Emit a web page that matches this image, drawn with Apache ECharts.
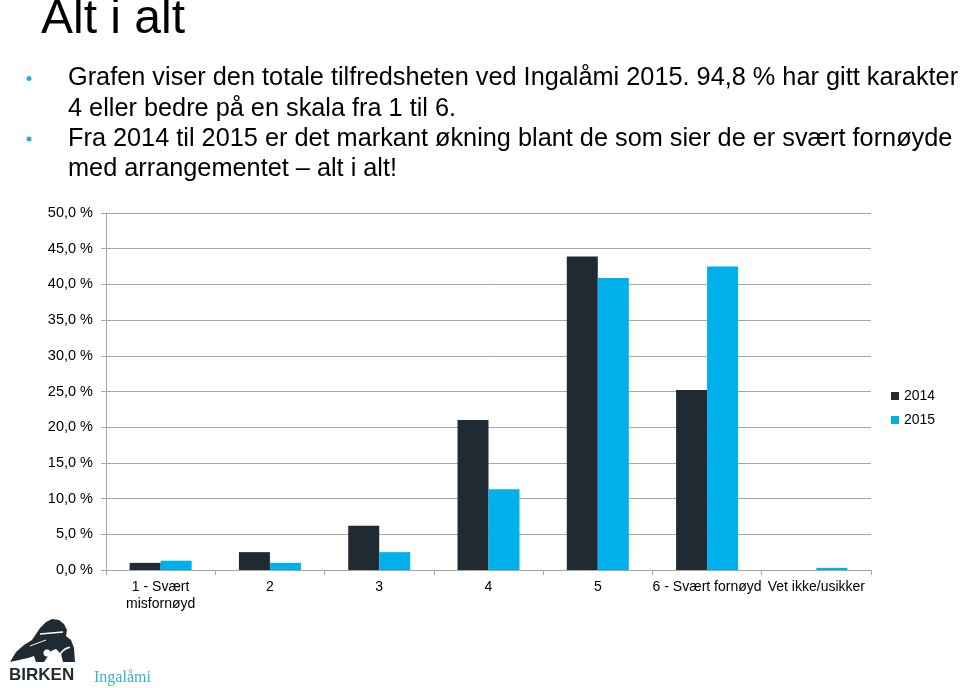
<!DOCTYPE html>
<html><head><meta charset="utf-8">
<script src="https://cdn.jsdelivr.net/npm/echarts@6/dist/echarts.min.js"></script>
<style>html,body{margin:0;padding:0;background:#fff}#c{width:960px;height:688px}</style>
</head><body><div id="c"></div>
<script>
const categories = ['1 - Svært\nmisfornøyd', '2', '3', '4', '5', '6 - Svært fornøyd', 'Vet ikke/usikker'];
const values2014 = [1.0, 2.5, 6.2, 21.0, 43.9, 25.2, 0];
const values2015 = [1.3, 1.0, 2.5, 11.3, 40.9, 42.5, 0.3];
const seriesNames = ['2014', '2015'];
const yTicks = { min: 0, max: 50, step: 5 };
const title = 'Alt i alt';
const bullets = [
  ['Grafen viser den totale tilfredsheten ved Ingalåmi 2015. 94,8 % har gitt karakter', '4 eller bedre på en skala fra 1 til 6.'],
  ['Fra 2014 til 2015 er det markant økning blant de som sier de er svært fornøyde', 'med arrangementet – alt i alt!']
];

const font = 'Arial, "Liberation Sans", Helvetica, sans-serif';
const graphics = [
  { type: 'text', x: 41, y: -4, style: { text: title, fontSize: 48, fontFamily: font, fill: '#000', verticalAlign: 'top' } }
];
let lineY = 78.5;
bullets.forEach(b => {
  graphics.push({ type: 'circle', shape: { cx: 29, cy: lineY, r: 2.5 }, style: { fill: '#29abe2' } });
  b.forEach(line => {
    graphics.push({ type: 'text', x: 68, y: lineY, style: { text: line, fontSize: 25.3, fontFamily: font, fill: '#000', verticalAlign: 'middle' } });
    lineY += 30.3;
  });
});
// logo approximation
graphics.push({ type: 'polygon', shape: { points: [[10,662],[16,652],[24,645],[32,640],[36,634],[40,628],[46,622],[52,619],[59,620],[64,624],[67,630],[66,636],[71,640],[74,648],[75,662],[63,662],[61,654],[56,649],[51,651],[48,656],[44,662],[36,662],[34,656],[28,658]] }, style: { fill: '#1f2a33' } });
graphics.push({ type: 'line', shape: { x1: 40, y1: 634, x2: 63, y2: 632 }, style: { stroke: '#fff', lineWidth: 1.5 } });
graphics.push({ type: 'line', shape: { x1: 30, y1: 646, x2: 46, y2: 640 }, style: { stroke: '#fff', lineWidth: 1 } });
graphics.push({ type: 'arc', shape: { cx: 72, cy: 660, r: 13, startAngle: Math.PI * 1.0, endAngle: Math.PI * 1.45 }, style: { stroke: '#fff', lineWidth: 1.5, fill: null } });
graphics.push({ type: 'circle', shape: { cx: 47, cy: 653, r: 3.5 }, style: { fill: '#fff' } });
graphics.push({ type: 'text', x: 9, y: 675, style: { text: 'BIRKEN', fontSize: 17, fontWeight: 'bold', fontFamily: font, fill: '#1f2a33', verticalAlign: 'middle' } });
graphics.push({ type: 'text', x: 94, y: 678, style: { text: 'Ingalåmi', fontSize: 16, fontFamily: '"Liberation Serif", "DejaVu Serif", serif', fill: '#3ab0c8', verticalAlign: 'middle' } });

const chart = echarts.init(document.getElementById('c'), null, { renderer: 'canvas' });
chart.setOption({
  animation: false,
  textStyle: { fontFamily: font },
  grid: { left: 106, right: 89, top: 213, bottom: 118, containLabel: false },
  legend: {
    data: seriesNames, orient: 'vertical', left: 891, top: 389, padding: 0, itemWidth: 8, itemHeight: 8, itemGap: 10,
    icon: 'rect', textStyle: { fontSize: 14, color: '#000' }
  },
  xAxis: {
    type: 'category', data: categories,
    axisLine: { lineStyle: { color: '#a6a6a6' } },
    axisTick: { show: true, length: 5, lineStyle: { color: '#a6a6a6' } },
    axisLabel: { color: '#000', fontSize: 14, margin: 9, lineHeight: 17, interval: 0 }
  },
  yAxis: {
    type: 'value', min: yTicks.min, max: yTicks.max, interval: yTicks.step,
    axisLine: { show: true, lineStyle: { color: '#a6a6a6' } },
    axisTick: { show: true, length: 5, lineStyle: { color: '#a6a6a6' } },
    splitLine: { lineStyle: { color: '#a6a6a6' } },
    axisLabel: { color: '#000', fontSize: 14.5, margin: 13, formatter: v => v.toFixed(1).replace('.', ',') + ' %' }
  },
  series: [
    { name: seriesNames[0], type: 'bar', data: values2014, barWidth: 31, barGap: '0%', itemStyle: { color: '#1f2a33' } },
    { name: seriesNames[1], type: 'bar', data: values2015, barWidth: 31, barGap: '0%', itemStyle: { color: '#00b0ea' } }
  ],
  graphic: graphics
});
</script></body></html>
